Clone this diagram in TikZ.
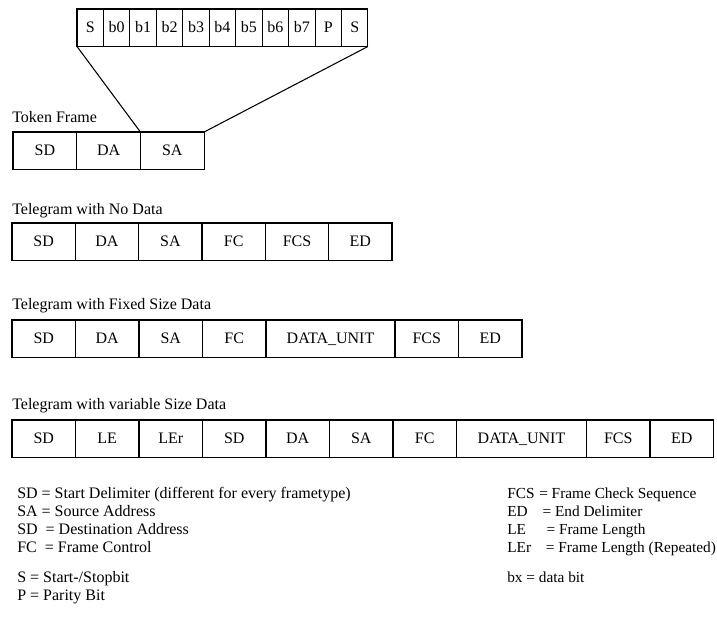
\documentclass[tikz,border=0pt]{standalone}
\usepackage{fontspec}
\setmainfont{Liberation Serif}
\tikzset{
  cell/.style={draw, line width=0.8pt, rectangle, inner sep=0pt, outer sep=0pt,
    text height=0.66em, text depth=0pt,
    minimum height=28.1pt, minimum width=47.6pt, anchor=north west},
  bitcell/.style={cell, minimum width=19.84pt},
  datacell/.style={cell, minimum width=97.2pt},
  txt/.style={inner sep=0pt, anchor=base west},
  keytxt/.style={txt, font=\fontsize{11.5}{14}\selectfont},
}
\begin{document}
\begin{tikzpicture}[x=0.75pt,y=-0.75pt,font=\fontsize{12}{14}\selectfont]
  \useasboundingbox (0,0) rectangle (717,619);
  % one character on the line
  \node[bitcell] (bstart) at (77,9) {S}; \node[bitcell] (b0) at (103.45,9) {b0};
  \node[bitcell] (b1) at (129.9,9) {b1}; \node[bitcell] (b2) at (156.35,9) {b2};
  \node[bitcell] (b3) at (182.8,9) {b3}; \node[bitcell] (b4) at (209.25,9) {b4};
  \node[bitcell] (b5) at (235.7,9) {b5}; \node[bitcell] (b6) at (262.15,9) {b6};
  \node[bitcell] (b7) at (288.6,9) {b7}; \node[bitcell] (bpar) at (315.05,9) {P};
  \node[bitcell] (bstop) at (341.5,9) {S};
  % token frame
  \node[txt] (ltoken) at (12,122) {Token Frame};
  \node[cell, minimum width=47.8pt] (tsd) at (13,132) {SD};
  \node[cell, minimum width=47.8pt] (tda) at (76.7,132) {DA};
  \node[cell, minimum width=47.8pt] (tsa) at (140.4,132) {SA};
  \draw[line width=0.8pt] (bstart.south west) -- (tsa.north west);
  \draw[line width=0.8pt] (bstop.south east) -- (tsa.north east);
  % no data
  \node[txt] (lnodata) at (12,214) {Telegram with No Data};
  \node[cell, minimum width=47.5pt] (nsd) at (12,223) {SD};
  \node[cell, minimum width=47.5pt] (nda) at (75.33,223) {DA};
  \node[cell, minimum width=47.5pt] (nsa) at (138.67,223) {SA};
  \node[cell, minimum width=47.5pt] (nfc) at (202,223) {FC};
  \node[cell, minimum width=47.5pt] (nfcs) at (265.33,223) {FCS};
  \node[cell, minimum width=47.5pt] (ned) at (328.67,223) {ED};
  % fixed size data
  \node[txt] (lfixed) at (12,309) {Telegram with Fixed Size Data};
  \node[cell] (fsd) at (12,320) {SD}; \node[cell] (fda) at (75.5,320) {DA};
  \node[cell] (fsa) at (139,320) {SA}; \node[cell] (ffc) at (202.5,320) {FC};
  \node[datacell, minimum width=96.75pt] (fdata) at (266,320) {DATA\_UNIT};
  \node[cell] (ffcs) at (395,320) {FCS}; \node[cell] (fed) at (458.5,320) {ED};
  % variable size data
  \node[txt] (lvar) at (12,409) {Telegram with variable Size Data};
  \node[cell] (vsd) at (12,420) {SD}; \node[cell] (vle) at (75.5,420) {LE};
  \node[cell] (vler) at (139,420) {LEr}; \node[cell] (vsdb) at (202.5,420) {SD};
  \node[cell] (vda) at (266,420) {DA}; \node[cell] (vsa) at (329.5,420) {SA};
  \node[cell] (vfc) at (393,420) {FC};
  \node[datacell, minimum width=97.5pt] (vdata) at (456.5,420) {DATA\_UNIT};
  \node[cell] (vfcs) at (586.5,420) {FCS}; \node[cell] (ved) at (650,420) {ED};
  % legend
  \node[txt] (lsd) at (17,498) {SD = Start Delimiter (different for every frametype)};
  \node[txt] (lsa) at (17,516) {SA = Source Address};
  \node[txt] (lda) at (17,534) {SD\ \ = Destination Address};
  \node[txt] (lfc) at (17,552) {FC\ \ = Frame Control};
  \node[txt] (lstart) at (17,582) {S = Start-/Stopbit};
  \node[txt] (lpar) at (17,600) {P = Parity Bit};
  \node[keytxt] (lfcs) at (507,498) {\makebox[24pt][l]{FCS}= Frame Check Sequence};
  \node[keytxt] (led) at (507,516) {\makebox[26.5pt][l]{ED}= End Delimiter};
  \node[keytxt] (lle) at (507,534) {\makebox[29.5pt][l]{LE}= Frame Length};
  \node[keytxt] (ller) at (507,552) {\makebox[29pt][l]{LEr}= Frame Length (Repeated)};
  \node[keytxt] (lbx) at (507,582) {bx = data bit};
\end{tikzpicture}
\end{document}
